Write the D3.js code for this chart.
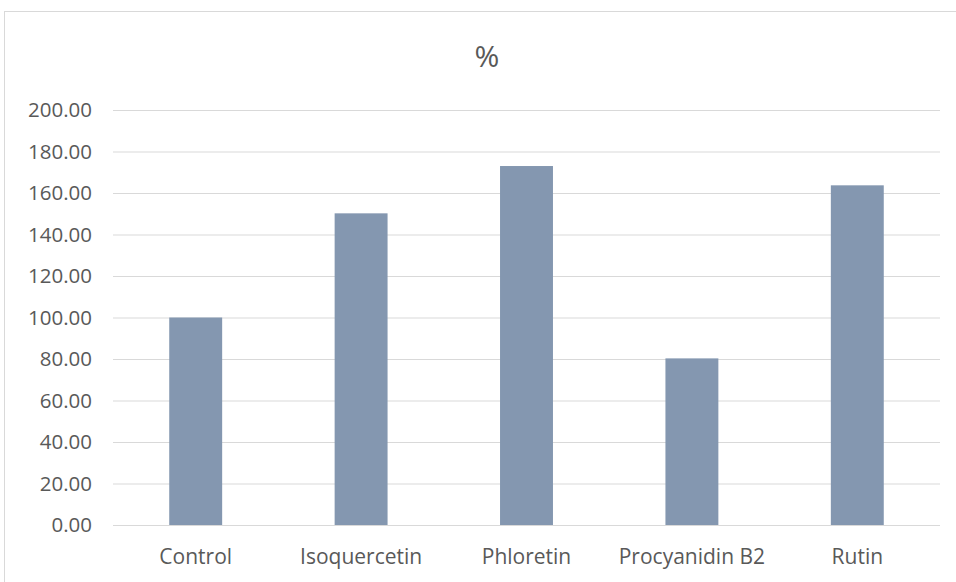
<!DOCTYPE html>
<html>
<head>
<meta charset="utf-8">
<script src="https://cdn.jsdelivr.net/npm/d3@7"></script>
<style>
  html, body { margin: 0; padding: 0; background: #fff; }
  svg { display: block; }
  text { font-family: "Open Sans", "Noto Sans", sans-serif; fill: #595959; }
</style>
</head>
<body>
<svg id="chart" width="956" height="582"></svg>
<script>
// Relative activity (%) per compound
const categories = ["Control", "Isoquercetin", "Phloretin", "Procyanidin B2", "Rutin"];
const values = [100.0, 150.2, 173.0, 80.3, 163.7];
const yTicks = [0, 20, 40, 60, 80, 100, 120, 140, 160, 180, 200];
const title = "%";

const width = 956, height = 582;
const margin = { top: 110, right: 16, bottom: 57, left: 113 };

const svg = d3.select("#chart");

// chart area frame
svg.append("rect")
  .attr("x", 4.5).attr("y", 11.5)
  .attr("width", 1000).attr("height", 1000)
  .attr("fill", "#fff")
  .attr("stroke", "#d9d9d9")
  .attr("stroke-width", 1);

const x = d3.scaleBand()
  .domain(categories)
  .range([margin.left, width - margin.right])
  .paddingInner(0.68)
  .paddingOuter(0.34);

const y = d3.scaleLinear()
  .domain([0, 200])
  .range([height - margin.bottom, margin.top]);

// horizontal gridlines + y labels
const yAxis = d3.axisLeft(y)
  .tickValues(yTicks)
  .tickFormat(d3.format(".2f"))
  .tickSize(-(width - margin.right - margin.left))
  .tickPadding(21);

const gy = svg.append("g")
  .attr("transform", `translate(${margin.left},0)`)
  .call(yAxis);
gy.select(".domain").remove();
gy.selectAll(".tick line").attr("stroke", "#d9d9d9").attr("stroke-width", 1);
gy.selectAll(".tick text")
  .attr("font-size", 20.5)
  .attr("dy", "0.34em")
  .style("fill", "#595959");

// bars
svg.append("g")
  .selectAll("rect")
  .data(categories)
  .join("rect")
  .attr("x", d => x(d))
  .attr("width", x.bandwidth())
  .attr("y", (d, i) => y(values[i]))
  .attr("height", (d, i) => y(0) - y(values[i]))
  .attr("fill", "#8497b0");

// category axis
const xAxis = d3.axisBottom(x).tickSize(0).tickPadding(24);
const gx = svg.append("g")
  .attr("transform", `translate(0,${y(0)})`)
  .call(xAxis);
gx.select(".domain")
  .attr("d", `M${margin.left},0.5H${width - margin.right}`)
  .attr("stroke", "#d9d9d9");
gx.selectAll(".tick text")
  .attr("font-size", 21)
  .style("fill", "#595959");

// title
svg.append("text")
  .attr("x", 487)
  .attr("y", 67)
  .attr("text-anchor", "middle")
  .attr("font-size", 30)
  .text(title);
</script>
</body>
</html>
